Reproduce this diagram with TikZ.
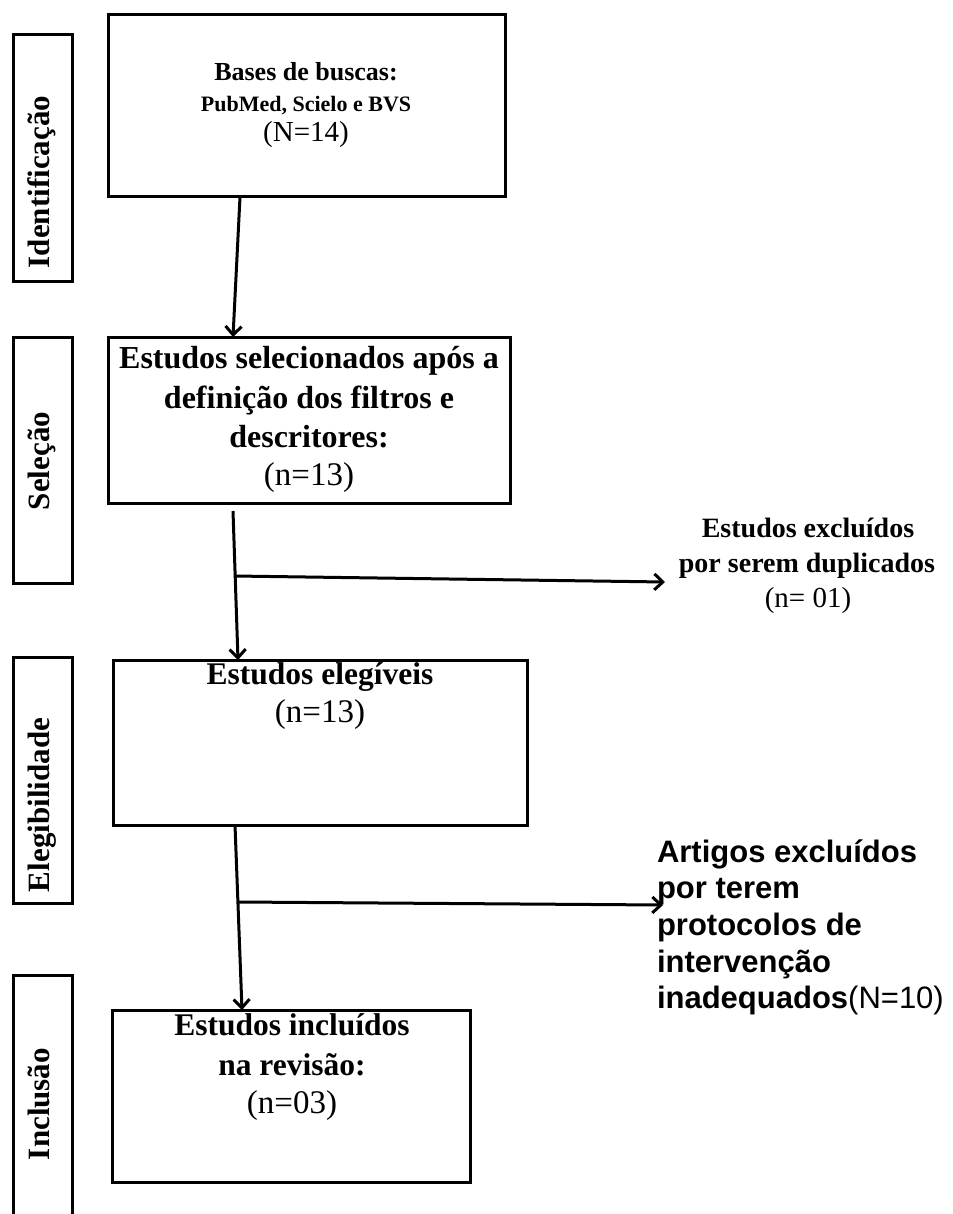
\documentclass[tikz,border=0pt]{standalone}
\usepackage{fontspec}
\setmainfont{Liberation Serif}
\newfontfamily\arialfont{Liberation Sans}
\usetikzlibrary{arrows.meta}
\newcommand\fsz[1]{\fontsize{#1}{#1}\selectfont}
\begin{document}
\begin{tikzpicture}[x=1pt,y=-1pt,
  frame/.style={draw=black, line width=3pt, inner sep=0pt, outer sep=0pt},
  lbl/.style={anchor=base, inner sep=0pt, outer sep=0pt},
  lblw/.style={anchor=base west, inner sep=0pt, outer sep=0pt, font=\arialfont\fsz{31}\bfseries},
  side/.style={anchor=base, rotate=90, inner sep=0pt, outer sep=0pt, font=\fsz{31}\bfseries},
  conn/.style={line width=3pt, -{Straight Barb[length=8.5pt,width=16pt]}}]
\useasboundingbox (0,0) rectangle (952,1214);

% phase boxes
\node[frame, minimum width=59pt, minimum height=247pt] (s1) at (42.5,158.5) {};
\node[frame, minimum width=59pt, minimum height=246pt] (s2) at (42.5,460) {};
\node[frame, minimum width=59pt, minimum height=246pt] (s3) at (42.5,780) {};
\node[frame, minimum width=59pt, minimum height=250pt] (s4) at (42.5,1100) {};
\node[side] (l1) at (49.5,182) {Identificação};
\node[side] (l2) at (49.5,461) {Seleção};
\node[side] (l3) at (49.5,805) {Elegibilidade};
\node[side] (l4) at (49.5,1104) {Inclusão};

% main boxes
\node[frame, minimum width=397pt, minimum height=182pt] (b1) at (306.5,106) {};
\node[frame, minimum width=402pt, minimum height=166pt] (b2) at (309,420) {};
\node[frame, minimum width=414pt, minimum height=165pt] (b3) at (320,742.5) {};
\node[frame, minimum width=358pt, minimum height=172pt] (b4) at (291,1096) {};

% box texts
\node[lbl, font=\fsz{26}\bfseries] (t1a) at (306,81) {Bases de buscas:};
\node[lbl, font=\fsz{22}\bfseries] (t1b) at (306,112) {PubMed, Scielo e BVS};
\node[lbl, font=\fsz{29}] (t1c) at (306,142) {(N=14)};

\node[lbl, font=\fsz{32}\bfseries] (t2a) at (309,368) {Estudos selecionados após a};
\node[lbl, font=\fsz{32}\bfseries] (t2b) at (309,408) {definição dos filtros e};
\node[lbl, font=\fsz{32}\bfseries] (t2c) at (309,447) {descritores:};
\node[lbl, font=\fsz{33}] (t2d) at (309,485) {(n=13)};

\node[lbl, font=\fsz{31.5}\bfseries] (t3a) at (320,684) {Estudos elegíveis};
\node[lbl, font=\fsz{33}] (t3b) at (320,722) {(n=13)};

\node[lbl, font=\fsz{31.5}\bfseries] (t4a) at (292,1035) {Estudos incluídos};
\node[lbl, font=\fsz{31.5}\bfseries] (t4b) at (292,1075) {na revisão:};
\node[lbl, font=\fsz{33}] (t4c) at (292,1113) {(n=03)};

% exclusion texts
\node[lbl, font=\fsz{28}\bfseries] (e1a) at (808,537) {Estudos excluídos};
\node[lbl, font=\fsz{28}\bfseries] (e1b) at (807,572) {por serem duplicados};
\node[lbl, font=\fsz{29}] (e1c) at (808,607) {(n= 01)};

\node[lblw] (e2a) at (657,862) {Artigos excluídos};
\node[lblw] (e2b) at (657,898) {por terem};
\node[lblw] (e2c) at (657,935) {protocolos de};
\node[lblw] (e2d) at (657,972) {intervenção};
\node[lblw] (e2e) at (657,1008) {inadequados{\mdseries(N=10)}};

% connector points
\coordinate (a2s) at ([xshift=125pt,yshift=-8pt]b2.south west);
\coordinate (j1) at (234,576);
\coordinate (x1) at (665,582);
\coordinate (j2) at (238,902);
\coordinate (x2) at (663,905);

% connectors
\draw[conn] ([xshift=132pt]b1.south west) -- ([xshift=125pt]b2.north west);
\draw[conn] (a2s) -- ([xshift=125pt]b3.north west);
\draw[conn] (j1) -- (x1);
\draw[conn] ([xshift=122pt]b3.south west) -- ([xshift=130pt]b4.north west);
\draw[conn] (j2) -- (x2);
\end{tikzpicture}
\end{document}
